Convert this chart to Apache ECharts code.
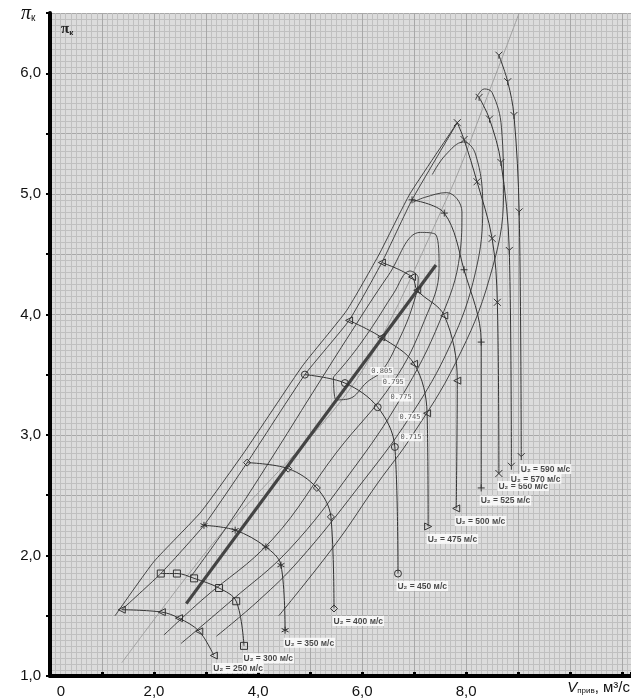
<!DOCTYPE html>
<html><head><meta charset="utf-8">
<script src="https://cdn.jsdelivr.net/npm/echarts@6.0.0/dist/echarts.min.js"></script>
<style>html,body{margin:0;padding:0;background:#fff}#c{width:631px;height:700px}</style>
</head><body><div id="c"></div>
<script>
// ---------- axis ticks ----------
const xTickValues = [0, 2, 4, 6, 8];
const xTickLabels = ['0', '2,0', '4,0', '6,0', '8,0'];
const yTickValues = [1, 2, 3, 4, 5, 6];
const yTickLabels = ['1,0', '2,0', '3,0', '4,0', '5,0', '6,0'];

// ---------- speed lines U2 (V, pi_k) ----------
const speedLabels = ['U₂ = 250 м/с','U₂ = 300 м/с','U₂ = 350 м/с','U₂ = 400 м/с','U₂ = 450 м/с',
  'U₂ = 475 м/с','U₂ = 500 м/с','U₂ = 525 м/с','U₂ = 550 м/с','U₂ = 570 м/с','U₂ = 590 м/с'];
const u250 = [[1.38,1.55],[2.15,1.53],[2.48,1.48],[2.87,1.37],[3.15,1.17]];
const u300 = [[2.13,1.85],[2.44,1.85],[2.77,1.81],[3.25,1.73],[3.58,1.62],[3.73,1.25]];
const u350 = [[2.96,2.25],[3.56,2.21],[4.15,2.07],[4.44,1.92],[4.52,1.38]];
const u400 = [[3.79,2.77],[4.58,2.72],[5.13,2.56],[5.40,2.32],[5.46,1.56]];
const u450 = [[4.90,3.50],[5.67,3.43],[6.30,3.23],[6.63,2.90],[6.69,1.85]];
const u475 = [[5.75,3.95],[6.37,3.81],[7.00,3.59],[7.25,3.18],[7.27,2.24]];
const u500 = [[6.38,4.43],[6.96,4.31],[7.06,4.20],[7.58,3.99],[7.83,3.45],[7.81,2.39]];
const u525 = [[6.96,4.95],[7.58,4.84],[7.96,4.37],[8.29,3.77],[8.29,2.56]];
const u550 = [[7.83,5.59],[7.96,5.45],[8.21,5.10],[8.50,4.63],[8.60,4.10],[8.63,2.68]];
const u570 = [[8.25,5.80],[8.45,5.62],[8.67,5.26],[8.83,4.53],[8.87,2.74]];
const u590 = [[8.63,6.15],[8.80,5.93],[8.92,5.65],[9.02,4.85],[9.06,2.82]];
const speedLines = [u250,u300,u350,u400,u450,u475,u500,u525,u550,u570,u590];

// ---------- efficiency contours ----------
const effLabels = ['0.805','0.795','0.775','0.745','0.715'];
const effLabelPts = [[6.38,3.53],[6.60,3.44],[6.75,3.31],[6.92,3.15],[6.94,2.98]];
const e805 = [[5.45,3.48],[5.50,3.29],[5.75,3.30],[6.10,3.44],[6.38,3.53],[6.70,3.78],[6.98,4.08],[7.08,4.30],[6.92,4.36],[6.60,4.17],[6.20,3.90],[5.80,3.66],[5.45,3.48]];
const e795 = [[2.19,1.34],[2.92,1.63],[4.27,2.13],[5.50,2.85],[6.60,3.44],[7.20,3.95],[7.48,4.38],[7.42,4.66],[7.12,4.68],[6.50,4.32],[5.80,3.86],[5.05,3.35],[4.25,2.80],[3.45,2.27],[2.70,1.82]];
const e775 = [[2.52,1.27],[3.50,1.63],[4.60,2.05],[5.80,2.70],[6.75,3.31],[7.50,3.95],[7.88,4.50],[7.92,4.85],[7.62,5.01],[7.20,4.97],[6.98,4.93]];
const e745 = [[3.20,1.33],[4.02,1.63],[4.79,1.96],[5.90,2.55],[6.92,3.15],[7.70,3.75],[8.18,4.35],[8.32,4.90],[8.18,5.33],[7.95,5.43],[7.60,5.32],[7.35,5.16]];
const e715 = [[4.40,1.50],[5.50,2.10],[6.30,2.60],[6.94,2.98],[7.80,3.60],[8.45,4.30],[8.72,5.00],[8.68,5.55],[8.50,5.84],[8.35,5.87],[8.18,5.78]];
const effLines = [e805,e795,e775,e745,e715];

// ---------- boundary / reference lines ----------
const surgeLine = [[1.38,1.55],[2.13,1.85],[2.96,2.25],[3.79,2.77],[4.90,3.50],[5.75,3.95],[6.38,4.43],[6.96,4.95],[7.83,5.59]];
const surgeLine2 = [[1.25,1.50],[2.00,1.95],[2.90,2.36],[3.74,2.86],[4.85,3.57],[5.70,4.03],[6.33,4.50],[6.92,5.00],[7.83,5.59]];
const opLine = [[2.62,1.60],[7.42,4.41]];
const refLine = [[1.38,1.11],[3.19,2.13],[5.88,3.45],[7.67,5.00],[8.40,5.80],[9.02,6.50]];

// ---------- build ----------
const C = '#333333';
const P = s => 'path://' + s;
const SYM = {
  triL: P('M0,5L10,0L10,10Z'), triR: P('M10,5L0,0L0,10Z'),
  sq: P('M0,0L10,0L10,10L0,10Z'), dia: P('M5,0L10,5L5,10L0,5Z'),
  star: P('M5,0L5,10M0.7,2.5L9.3,7.5M0.7,7.5L9.3,2.5'),
  plus: P('M5,0L5,10M0,5L10,5'), cross: P('M0,0L10,10M0,10L10,0'),
  yy: P('M0,0L5,5L10,0M5,5L5,10'), circ: 'circle'
};
const symOrder = ['triL','sq','star','dia','circ','triL','triL','plus','cross','yy','yy'];

const series = [];
const plain = (data, color, width, smooth, z) => ({
  type:'line', data, smooth, symbol:'none', silent:true, animation:false, z,
  lineStyle:{color, width}
});
series.push(plain(refLine, '#a0a0a0', 1, 0.3, 2));
effLines.forEach(d => series.push(plain(d, C, 0.9, 0.4, 3)));
series.push(plain(surgeLine, C, 0.9, 0.15, 3));
series.push(plain(surgeLine2, C, 0.9, 0.15, 3));
series.push(plain(opLine, '#444', 3.2, false, 4));

speedLines.forEach((arr, i) => {
  const data = arr.map((p, j) => {
    if (i === 5 && j === arr.length - 1) return {value:p, symbol:SYM.triR};
    return {value:p};
  });
  series.push({
    type:'line', data, smooth:0.35, symbol:SYM[symOrder[i]], symbolSize:7, showAllSymbol:true,
    silent:true, animation:false, z:5,
    lineStyle:{color:C, width:1},
    itemStyle:{color:'rgba(0,0,0,0)', borderColor:C, borderWidth:1}
  });
});

// speed labels at the end of every speed line
series.push({
  type:'scatter', symbolSize:1, silent:true, animation:false, z:8,
  itemStyle:{color:'rgba(0,0,0,0)'},
  data: speedLines.map((arr, i) => ({
    value: arr[arr.length - 1],
    label:{show:true, formatter: speedLabels[i]}
  })),
  label:{show:true, position:[-1,8], align:'left', verticalAlign:'top',
    fontSize:8.5, fontWeight:'bold', fontFamily:'Liberation Sans', color:'#1a1a1a',
    backgroundColor:'#ffffff', padding:[1,1,0,1]}
});
// efficiency labels
series.push({
  type:'scatter', symbolSize:1, silent:true, animation:false, z:8,
  itemStyle:{color:'rgba(0,0,0,0)'},
  data: effLabelPts.map((p, i) => ({value:p, label:{show:true, formatter: effLabels[i]}})),
  label:{show:true, position:'inside', fontSize:7, fontFamily:'DejaVu Sans Mono', color:'#333',
    backgroundColor:'#ffffff', padding:[1,1,0,1]}
});

const chart = echarts.init(document.getElementById('c'), null, {renderer:'canvas'});
chart.setOption({
  animation:false,
  backgroundColor:'#ffffff',
  grid:{left:50, right:0, top:13, bottom:24, show:true, backgroundColor:'#dcdcdc', borderWidth:0, outerBoundsMode:'none'},
  xAxis:{
    type:'value', min:0, max:11.17, interval:1,
    axisLine:{show:true, onZero:false, lineStyle:{color:'#000', width:4}},
    axisTick:{show:true, inside:true, length:4, lineStyle:{color:'#000', width:3}},
    axisLabel:{margin:8, fontSize:15, fontFamily:'Liberation Sans', color:'#111',
      rich:{z:{fontSize:15, fontFamily:'Liberation Sans', color:'#111', padding:[0,0,0,22]}},
      formatter: v => { const k = xTickValues.indexOf(Math.round(v*100)/100);
        if (k < 0) return ''; return k === 0 ? '{z|' + xTickLabels[0] + '}' : xTickLabels[k]; }},
    splitLine:{show:true, lineStyle:{color:'#a8a8a8', width:1}},
    minorTick:{show:false, splitNumber:10},
    minorSplitLine:{show:true, lineStyle:{color:'#c0c0c0', width:1}}
  },
  yAxis:{
    type:'value', min:1, max:6.5, interval:0.5,
    axisLine:{show:true, onZero:false, lineStyle:{color:'#000', width:4}},
    axisTick:{show:true, inside:false, length:4, lineStyle:{color:'#000', width:2}},
    axisLabel:{margin:9, fontSize:15, fontFamily:'Liberation Sans', color:'#111',
      formatter: v => { const k = yTickValues.indexOf(Math.round(v*100)/100); return k >= 0 ? yTickLabels[k] : ''; }},
    splitLine:{show:true, lineStyle:{color:'#a8a8a8', width:1}},
    minorTick:{show:false, splitNumber:10},
    minorSplitLine:{show:true, lineStyle:{color:'#c0c0c0', width:1}}
  },
  graphic:[
    {type:'text', left:21, top:4, z:100, style:{text:'{p|π}{k|к}',
      rich:{p:{fontSize:20, fontStyle:'italic', fontFamily:'Liberation Serif', fill:'#111'},
            k:{fontSize:10, fontFamily:'Liberation Sans', fill:'#111', padding:[8,0,0,0]}}}},
    {type:'text', left:61, top:22, z:100, style:{text:'{p|π}{k|к}',
      rich:{p:{fontSize:15, fontWeight:'bold', fontFamily:'Liberation Serif', fill:'#222'},
            k:{fontSize:8, fontWeight:'bold', fontFamily:'Liberation Sans', fill:'#222', padding:[6,0,0,0]}}}},
    {type:'text', right:1, top:680, z:100, style:{text:'{v|V}{s|прив}{n|, м³/с}',
      rich:{v:{fontSize:15, fontStyle:'italic', fontFamily:'Liberation Sans', fill:'#111'},
            s:{fontSize:8, fontFamily:'Liberation Sans', fill:'#111', padding:[7,0,0,0]},
            n:{fontSize:15, fontFamily:'Liberation Sans', fill:'#111'}}}}
  ],
  series
});
</script>
</body></html>
